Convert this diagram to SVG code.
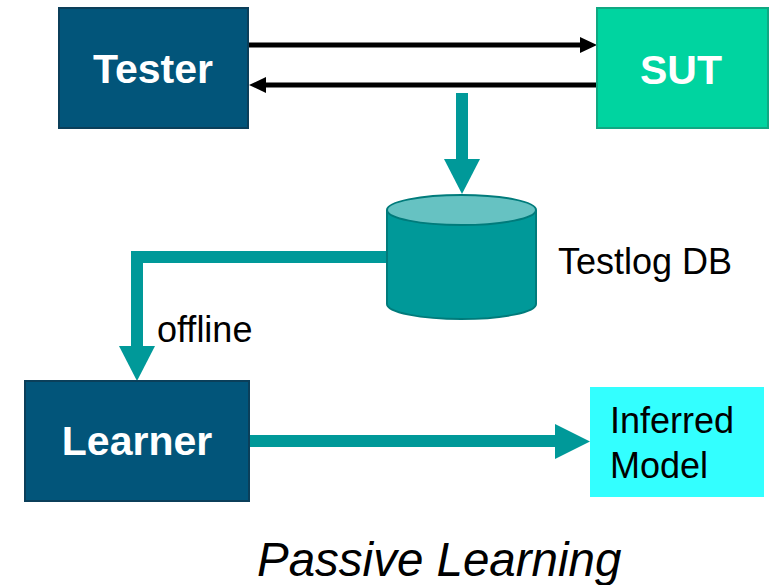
<svg xmlns="http://www.w3.org/2000/svg" width="777" height="585" viewBox="0 0 777 585">
<style>
.box{fill:#02557a;stroke:#0b3f5a;stroke-width:2}
.bt{font-family:"Liberation Sans",Arial,sans-serif;font-weight:bold;font-size:41px;fill:#ffffff;text-anchor:middle}
.t{font-family:"Liberation Sans",Arial,sans-serif;font-size:36px;fill:#000000}
.blk{stroke:#000;stroke-width:5;fill:none}
.teal{fill:#009999;stroke:none}
</style>
<rect width="777" height="585" fill="#ffffff"/>
<g id="connectors">
  <line class="blk" x1="249" y1="45" x2="582" y2="45"/>
  <polygon points="597,45 580,37 580,53" fill="#000"/>
  <line class="blk" x1="597" y1="85" x2="264" y2="85"/>
  <polygon points="249,85 266,77 266,93" fill="#000"/>
  <rect class="teal" x="456" y="93" width="12" height="67"/>
  <polygon class="teal" points="444,159 480,159 462,194"/>
  <polygon class="teal" points="388,251 131,251 131,347 143,347 143,263 388,263"/>
  <polygon class="teal" points="119,346 155,346 137,381"/>
  <rect class="teal" x="249" y="435" width="308" height="12"/>
  <polygon class="teal" points="555,424 555,459 590,441.5"/>
  <text class="t" x="157" y="342">offline</text>
</g>
<g id="tester">
  <rect class="box" x="59" y="8" width="189" height="120"/>
  <text class="bt" x="153" y="83">Tester</text>
</g>
<g id="sut">
  <rect x="597" y="8" width="171" height="120" fill="#00d4a0" stroke="#10a882" stroke-width="2"/>
  <text class="bt" x="681" y="84">SUT</text>
</g>
<g id="testlog-db">
  <path d="M387,210 L387,304 A74.5,15 0 0 0 536,304 L536,210" fill="#009999" stroke="#007b7b" stroke-width="2"/>
  <ellipse cx="461.5" cy="210" rx="74.5" ry="15" fill="#66c2c2" stroke="#007b7b" stroke-width="2"/>
  <text class="t" x="558" y="274">Testlog DB</text>
</g>
<g id="learner">
  <rect class="box" x="25" y="381" width="224" height="120"/>
  <text class="bt" x="137" y="455">Learner</text>
</g>
<g id="inferred-model">
  <rect x="590" y="387" width="174" height="110" fill="#33ffff"/>
  <text class="t" x="610" y="433">Inferred</text>
  <text class="t" x="610" y="478">Model</text>
</g>
<text x="257" y="576" font-family="'Liberation Sans',Arial,sans-serif" font-style="italic" font-size="47.5" fill="#000">Passive Learning</text>
</svg>
